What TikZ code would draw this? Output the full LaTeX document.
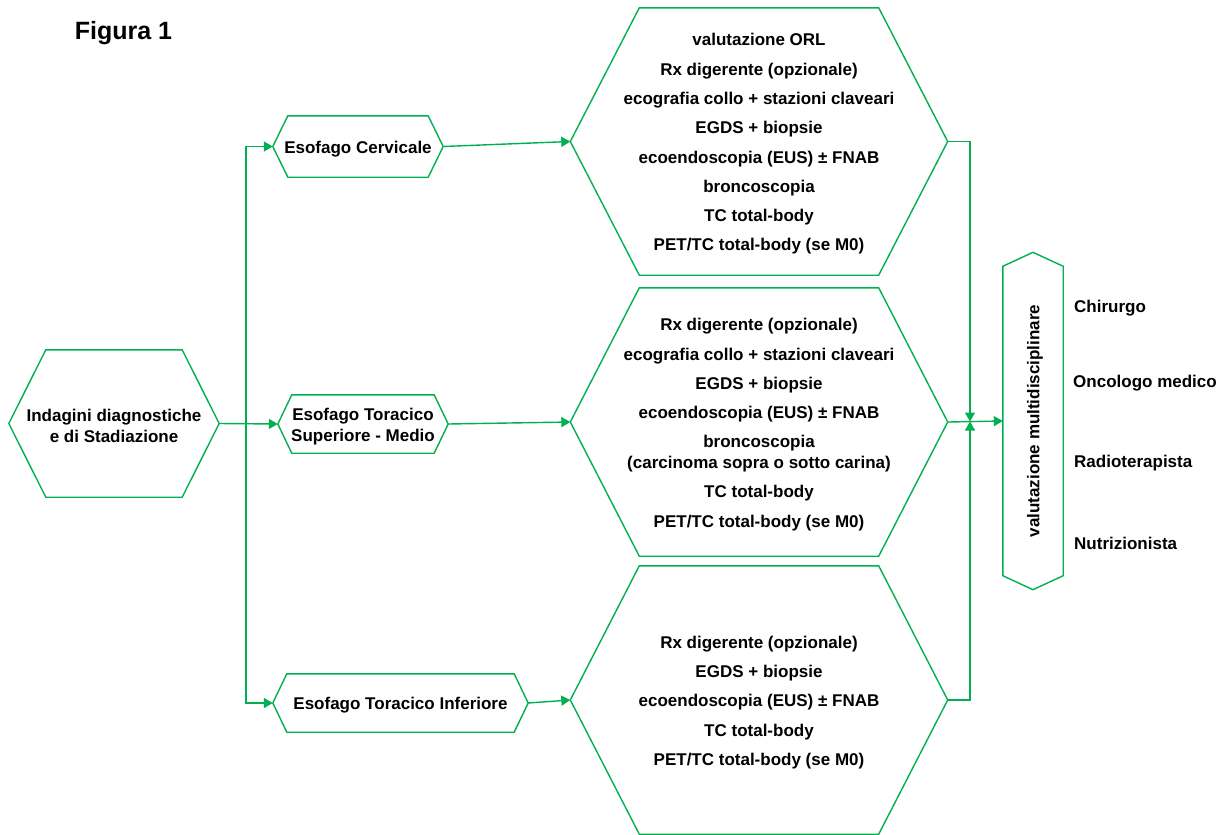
\documentclass[tikz,border=0pt]{standalone}
\usepackage{fontspec}
\setmainfont{Liberation Sans}
\usetikzlibrary{arrows.meta}
\definecolor{ogreen}{RGB}{0,176,80}
\tikzset{
  hexbox/.style={rectangle, inner sep=0pt},
  hextext/.style={inner sep=0pt, align=center, font=\bfseries\fontsize{17}{20.5}\selectfont},
  hexline/.style={draw=ogreen, line width=1.4pt, line join=miter},
  arr/.style={draw=ogreen, line width=1.4pt, -{Triangle[length=9pt,width=10pt]}},
  lbl/.style={anchor=west, inner sep=0pt, font=\bfseries\fontsize{17}{20.5}\selectfont},
}
% hexagon pointing left and right: name, centre, width, height, tip depth, text
\newcommand\hexnode[6]{%
  \node[hexbox, minimum width=#3, minimum height=#4] (#1) at (#2) {};
  \node[hextext] (#1t) at ([yshift=-2.5pt]#1.center) {#6};
  \draw[hexline] (#1.west) -- ([xshift=#5]#1.north west) -- ([xshift=-#5]#1.north east)
    -- (#1.east) -- ([xshift=-#5]#1.south east) -- ([xshift=#5]#1.south west) -- cycle;}
\begin{document}
\begin{tikzpicture}[x=1pt, y=-1pt]
\useasboundingbox (0,0) rectangle (1226,835);

\node[inner sep=0pt, font=\bfseries\fontsize{25}{30}\selectfont] (fig) at (123.5,33) {Figura 1};

% start node
\hexnode{start}{114,423.5}{210pt}{147pt}{37pt}{Indagini diagnostiche\\e di Stadiazione}

% oesophagus segments
\hexnode{s1}{358,146.5}{170pt}{61pt}{15pt}{Esofago Cervicale}
\hexnode{s2}{363,424}{170pt}{58pt}{14pt}{Esofago Toracico\\Superiore - Medio}
\hexnode{s3}{400.5,703}{255pt}{58pt}{14pt}{Esofago Toracico Inferiore}

% examinations per segment
\hexnode{b1}{759,141.5}{377pt}{267pt}{69pt}{valutazione ORL\\[8.8pt]
  Rx digerente (opzionale)\\[8.8pt]
  ecografia collo + stazioni claveari\\[8.8pt]
  EGDS + biopsie\\[8.8pt]
  ecoendoscopia (EUS) ± FNAB\\[8.8pt]
  broncoscopia\\[8.8pt]
  TC total-body\\[8.8pt]
  PET/TC total-body (se M0)}
\hexnode{b2}{759,422}{377pt}{268pt}{69pt}{Rx digerente (opzionale)\\[8.8pt]
  ecografia collo + stazioni claveari\\[8.8pt]
  EGDS + biopsie\\[8.8pt]
  ecoendoscopia (EUS) ± FNAB\\[8.8pt]
  broncoscopia\\
  (carcinoma sopra o sotto carina)\\[8.8pt]
  TC total-body\\[8.8pt]
  PET/TC total-body (se M0)}
\hexnode{b3}{759,700}{377pt}{268pt}{69pt}{Rx digerente (opzionale)\\[8.8pt]
  EGDS + biopsie\\[8.8pt]
  ecoendoscopia (EUS) ± FNAB\\[8.8pt]
  TC total-body\\[8.8pt]
  PET/TC total-body (se M0)}

% multidisciplinary assessment (vertical hexagon)
\node[hexbox, minimum width=60pt, minimum height=337pt] (vm) at (1033,421) {};
\draw[hexline] (vm.north) -- ([yshift=-14pt]vm.north east) -- ([yshift=14pt]vm.south east)
  -- (vm.south) -- ([yshift=14pt]vm.south west) -- ([yshift=-14pt]vm.north west) -- cycle;
\node[hextext, rotate=90] (vmt) at (1035,421) {valutazione multidisciplinare};

% specialists
\node[lbl] (chi) at (1074,308) {Chirurgo};
\node[lbl] (onc) at (1073,383) {Oncologo medico};
\node[lbl] (rad) at (1074,463) {Radioterapista};
\node[lbl] (nut) at (1074,543) {Nutrizionista};

% connectors
\coordinate (tr) at (246,423.5);
\draw[arr] (start.east) -- (s2.west);
\draw[arr] (tr) |- (s1.west);
\draw[arr] (tr) |- (s3.west);
\draw[arr] (s1.east) -- (b1.west);
\draw[arr] (s2.east) -- (b2.west);
\draw[arr] (s3.east) -- (b3.west);

\coordinate (j) at (970,421.5);
\draw[arr] (b1.east) -| (j);
\draw[arr] (b3.east) -| (j);
\draw[arr] (b2.east) -- (vm.west);
\end{tikzpicture}
\end{document}
